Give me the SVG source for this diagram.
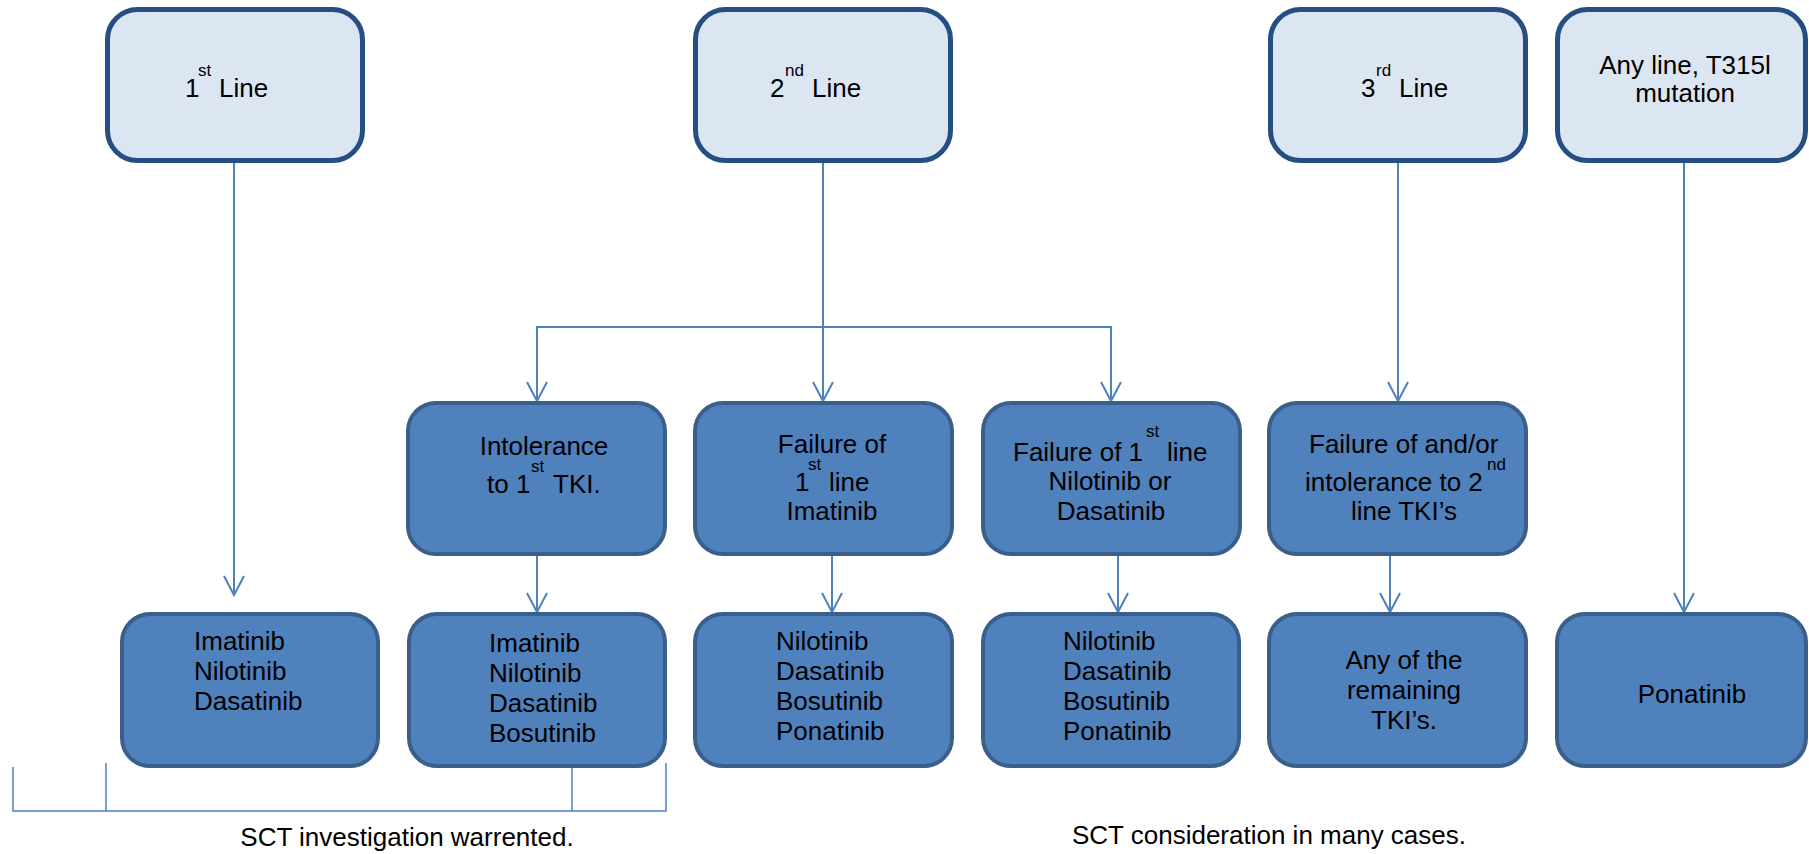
<svg xmlns="http://www.w3.org/2000/svg" width="1809" height="854" viewBox="0 0 1809 854">
<style>
.top{fill:#DCE6F2;stroke:#254E82;stroke-width:5}
.box{fill:#4F81BD;stroke:#3A5F8B;stroke-width:4}
text{font-family:"Liberation Sans",Arial,sans-serif;font-size:26px;fill:#000}
.sup{font-size:17px}
.c{text-anchor:middle}
.ln{fill:none;stroke:#4F81BD;stroke-width:2}
.br{fill:none;stroke:#4F81BD;stroke-width:1.5}
</style>
<defs>
<marker id="arr" viewBox="0 0 22 24" refX="20" refY="12" markerWidth="22" markerHeight="24" markerUnits="userSpaceOnUse" orient="auto" overflow="visible">
<path d="M1,2 L20,12 L1,22" fill="none" stroke="#4F81BD" stroke-width="2"/>
</marker>
</defs>
<rect width="1809" height="854" fill="#fff"/>
<g id="connectors">
<path class="ln" d="M234,163 V595" marker-end="url(#arr)"/>
<path class="ln" d="M823,163 V401" marker-end="url(#arr)"/>
<path class="ln" d="M537,401 V327 H1111 V401" marker-end="url(#arr)"/>
<path class="ln" d="M537,327 V401" marker-end="url(#arr)"/>
<path class="ln" d="M1398,163 V401" marker-end="url(#arr)"/>
<path class="ln" d="M1684,163 V612" marker-end="url(#arr)"/>
<path class="ln" d="M537,556 V612" marker-end="url(#arr)"/>
<path class="ln" d="M832,556 V612" marker-end="url(#arr)"/>
<path class="ln" d="M1118,556 V612" marker-end="url(#arr)"/>
<path class="ln" d="M1390,556 V612" marker-end="url(#arr)"/>
<path class="br" d="M13,767 V811 H666 V763 M106,763 V811 M572,767 V811"/>
</g>
<g id="n-line1">
<rect class="top" x="107.5" y="9.5" width="255" height="151" rx="30"/>
<text x="185" y="97">1</text><text class="sup" x="198" y="76">st</text><text x="219" y="97">Line</text>
</g>
<g id="n-line2">
<rect class="top" x="695.5" y="9.5" width="255" height="151" rx="30"/>
<text x="770" y="97">2</text><text class="sup" x="785" y="76">nd</text><text x="812" y="97">Line</text>
</g>
<g id="n-line3">
<rect class="top" x="1270.5" y="9.5" width="255" height="151" rx="30"/>
<text x="1361" y="97">3</text><text class="sup" x="1376" y="76">rd</text><text x="1399" y="97">Line</text>
</g>
<g id="n-anyline">
<rect class="top" x="1557.5" y="9.5" width="248" height="151" rx="30"/>
<text class="c" x="1685" y="74">Any line, T315l</text>
<text class="c" x="1685" y="102">mutation</text>
</g>
<g id="n-intolerance">
<rect class="box" x="408" y="403" width="257" height="151" rx="28"/>
<text class="c" x="544" y="455">Intolerance</text>
<text x="487" y="493">to 1</text><text class="sup" x="531" y="472">st</text><text x="553" y="493">TKI.</text>
</g>
<g id="n-fail-imatinib">
<rect class="box" x="695" y="403" width="257" height="151" rx="28"/>
<text class="c" x="832" y="453">Failure of</text>
<text x="795" y="491">1</text><text class="sup" x="808" y="470">st</text><text x="829" y="491">line</text>
<text class="c" x="832" y="520">Imatinib</text>
</g>
<g id="n-fail-nilo">
<rect class="box" x="983" y="403" width="257" height="151" rx="28"/>
<text x="1013" y="461">Failure of 1</text><text class="sup" x="1146" y="437">st</text><text x="1167" y="461">line</text>
<text class="c" x="1110" y="490">Nilotinib or</text>
<text class="c" x="1111" y="520">Dasatinib</text>
</g>
<g id="n-fail-2nd">
<rect class="box" x="1269" y="403" width="257" height="151" rx="28"/>
<text x="1309" y="453">Failure of and/or</text>
<text x="1305" y="491">intolerance to 2</text><text class="sup" x="1487" y="470">nd</text>
<text x="1351" y="520">line TKI’s</text>
</g>
<g id="n-b1">
<rect class="box" x="122" y="614" width="256" height="152" rx="28"/>
<text x="194" y="650">Imatinib</text>
<text x="194" y="680">Nilotinib</text>
<text x="194" y="710">Dasatinib</text>
</g>
<g id="n-b2">
<rect class="box" x="409" y="614" width="256" height="152" rx="28"/>
<text x="489" y="652">Imatinib</text>
<text x="489" y="682">Nilotinib</text>
<text x="489" y="712">Dasatinib</text>
<text x="489" y="742">Bosutinib</text>
</g>
<g id="n-b3">
<rect class="box" x="695" y="614" width="257" height="152" rx="28"/>
<text x="776" y="650">Nilotinib</text>
<text x="776" y="680">Dasatinib</text>
<text x="776" y="710">Bosutinib</text>
<text x="776" y="740">Ponatinib</text>
</g>
<g id="n-b4">
<rect class="box" x="983" y="614" width="256" height="152" rx="28"/>
<text x="1063" y="650">Nilotinib</text>
<text x="1063" y="680">Dasatinib</text>
<text x="1063" y="710">Bosutinib</text>
<text x="1063" y="740">Ponatinib</text>
</g>
<g id="n-b5">
<rect class="box" x="1269" y="614" width="257" height="152" rx="28"/>
<text class="c" x="1404" y="669">Any of the</text>
<text class="c" x="1404" y="699">remaining</text>
<text class="c" x="1404" y="729">TKI’s.</text>
</g>
<g id="n-b6">
<rect class="box" x="1557" y="614" width="249" height="152" rx="28"/>
<text class="c" x="1692" y="703">Ponatinib</text>
</g>
<g id="labels">
<text class="c" x="407" y="846">SCT investigation warrented.</text>
<text class="c" x="1269" y="844">SCT consideration in many cases.</text>
</g>
</svg>
